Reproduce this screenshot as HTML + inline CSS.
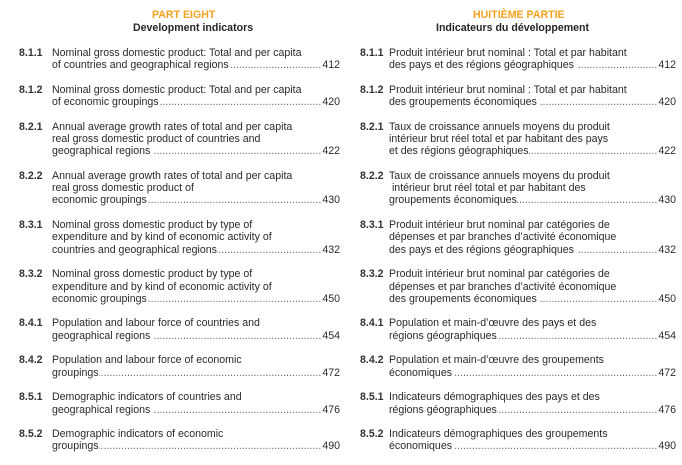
<!DOCTYPE html>
<html><head><meta charset="utf-8">
<style>
html,body{margin:0;padding:0;background:#fff;}
body{width:682px;height:452px;position:relative;overflow:hidden;font-family:"Liberation Sans",Arial,sans-serif;font-size:10.6px;color:#2a2a2a;}
.h{position:absolute;white-space:nowrap;font-weight:bold;line-height:12.3px;}
.o{color:#f5a31e;}
.k{color:#262626;}
.col{position:absolute;top:46.9px;}
.e{position:relative;margin-bottom:12.3px;}
.n{position:absolute;left:0;top:0;font-weight:bold;line-height:12.3px;color:#333;}
.t{line-height:12.3px;white-space:nowrap;}
.l{height:12.3px;}
.f{display:flex;height:12.3px;}
.f .d{flex:1;overflow:hidden;white-space:nowrap;color:#666;direction:rtl;text-align:right;}
.f .p{padding-left:1px;}
</style></head><body>
<div class="h o" style="left:152px;top:9.2px;">PART EIGHT</div>
<div class="h k" style="left:133px;top:21.9px;">Development indicators</div>
<div class="h o" style="left:473px;top:9.2px;">HUITIÈME PARTIE</div>
<div class="h k" style="left:436px;top:21.9px;">Indicateurs du développement</div>

<div class="col" style="left:19px;width:321px;">
 <div class="e"><span class="n">8.1.1</span><div class="t" style="margin-left:33px;">
  <div class="l">Nominal gross domestic product: Total and per capita</div>
  <div class="f"><span>of countries and geographical regions</span><span class="d">................................................................................................</span><span class="p">412</span></div></div></div>
 <div class="e"><span class="n">8.1.2</span><div class="t" style="margin-left:33px;">
  <div class="l">Nominal gross domestic product: Total and per capita</div>
  <div class="f"><span>of economic groupings</span><span class="d">................................................................................................</span><span class="p">420</span></div></div></div>
 <div class="e"><span class="n">8.2.1</span><div class="t" style="margin-left:33px;">
  <div class="l">Annual average growth rates of total and per capita</div>
  <div class="l">real gross domestic product of countries and</div>
  <div class="f"><span>geographical regions&nbsp;</span><span class="d">................................................................................................</span><span class="p">422</span></div></div></div>
 <div class="e"><span class="n">8.2.2</span><div class="t" style="margin-left:33px;">
  <div class="l">Annual average growth rates of total and per capita</div>
  <div class="l">real gross domestic product of</div>
  <div class="f"><span>economic groupings</span><span class="d">................................................................................................</span><span class="p">430</span></div></div></div>
 <div class="e"><span class="n">8.3.1</span><div class="t" style="margin-left:33px;">
  <div class="l">Nominal gross domestic product by type of</div>
  <div class="l">expenditure and by kind of economic activity of</div>
  <div class="f"><span>countries and geographical regions</span><span class="d">................................................................................................</span><span class="p">432</span></div></div></div>
 <div class="e"><span class="n">8.3.2</span><div class="t" style="margin-left:33px;">
  <div class="l">Nominal gross domestic product by type of</div>
  <div class="l">expenditure and by kind of economic activity of</div>
  <div class="f"><span>economic groupings</span><span class="d">................................................................................................</span><span class="p">450</span></div></div></div>
 <div class="e"><span class="n">8.4.1</span><div class="t" style="margin-left:33px;">
  <div class="l">Population and labour force of countries and</div>
  <div class="f"><span>geographical regions&nbsp;</span><span class="d">................................................................................................</span><span class="p">454</span></div></div></div>
 <div class="e"><span class="n">8.4.2</span><div class="t" style="margin-left:33px;">
  <div class="l">Population and labour force of economic</div>
  <div class="f"><span>groupings</span><span class="d">................................................................................................</span><span class="p">472</span></div></div></div>
 <div class="e"><span class="n">8.5.1</span><div class="t" style="margin-left:33px;">
  <div class="l">Demographic indicators of countries and</div>
  <div class="f"><span>geographical regions&nbsp;</span><span class="d">................................................................................................</span><span class="p">476</span></div></div></div>
 <div class="e"><span class="n">8.5.2</span><div class="t" style="margin-left:33px;">
  <div class="l">Demographic indicators of economic</div>
  <div class="f"><span>groupings</span><span class="d">................................................................................................</span><span class="p">490</span></div></div></div>
</div>

<div class="col" style="left:360px;width:316px;">
 <div class="e"><span class="n">8.1.1</span><div class="t" style="margin-left:29px;">
  <div class="l">Produit intérieur brut nominal : Total et par habitant</div>
  <div class="f"><span>des pays et des régions géographiques&nbsp;</span><span class="d">................................................................................................</span><span class="p">412</span></div></div></div>
 <div class="e"><span class="n">8.1.2</span><div class="t" style="margin-left:29px;">
  <div class="l">Produit intérieur brut nominal : Total et par habitant</div>
  <div class="f"><span>des groupements économiques&nbsp;</span><span class="d">................................................................................................</span><span class="p">420</span></div></div></div>
 <div class="e"><span class="n">8.2.1</span><div class="t" style="margin-left:29px;">
  <div class="l">Taux de croissance annuels moyens du produit</div>
  <div class="l">intérieur brut réel total et par habitant des pays</div>
  <div class="f"><span>et des régions géographiques</span><span class="d">................................................................................................</span><span class="p">422</span></div></div></div>
 <div class="e"><span class="n">8.2.2</span><div class="t" style="margin-left:29px;">
  <div class="l">Taux de croissance annuels moyens du produit</div>
  <div class="l">&nbsp;intérieur brut réel total et par habitant des</div>
  <div class="f"><span>groupements économiques</span><span class="d">................................................................................................</span><span class="p">430</span></div></div></div>
 <div class="e"><span class="n">8.3.1</span><div class="t" style="margin-left:29px;">
  <div class="l">Produit intérieur brut nominal par catégories de</div>
  <div class="l">dépenses et par branches d’activité économique</div>
  <div class="f"><span>des pays et des régions géographiques&nbsp;</span><span class="d">................................................................................................</span><span class="p">432</span></div></div></div>
 <div class="e"><span class="n">8.3.2</span><div class="t" style="margin-left:29px;">
  <div class="l">Produit intérieur brut nominal par catégories de</div>
  <div class="l">dépenses et par branches d’activité économique</div>
  <div class="f"><span>des groupements économiques&nbsp;</span><span class="d">................................................................................................</span><span class="p">450</span></div></div></div>
 <div class="e"><span class="n">8.4.1</span><div class="t" style="margin-left:29px;">
  <div class="l">Population et main-d’œuvre des pays et des</div>
  <div class="f"><span>régions géographiques</span><span class="d">................................................................................................</span><span class="p">454</span></div></div></div>
 <div class="e"><span class="n">8.4.2</span><div class="t" style="margin-left:29px;">
  <div class="l">Population et main-d’œuvre des groupements</div>
  <div class="f"><span>économiques&nbsp;</span><span class="d">................................................................................................</span><span class="p">472</span></div></div></div>
 <div class="e"><span class="n">8.5.1</span><div class="t" style="margin-left:29px;">
  <div class="l">Indicateurs démographiques des pays et des</div>
  <div class="f"><span>régions géographiques</span><span class="d">................................................................................................</span><span class="p">476</span></div></div></div>
 <div class="e"><span class="n">8.5.2</span><div class="t" style="margin-left:29px;">
  <div class="l">Indicateurs démographiques des groupements</div>
  <div class="f"><span>économiques&nbsp;</span><span class="d">................................................................................................</span><span class="p">490</span></div></div></div>
</div>
</body></html>
